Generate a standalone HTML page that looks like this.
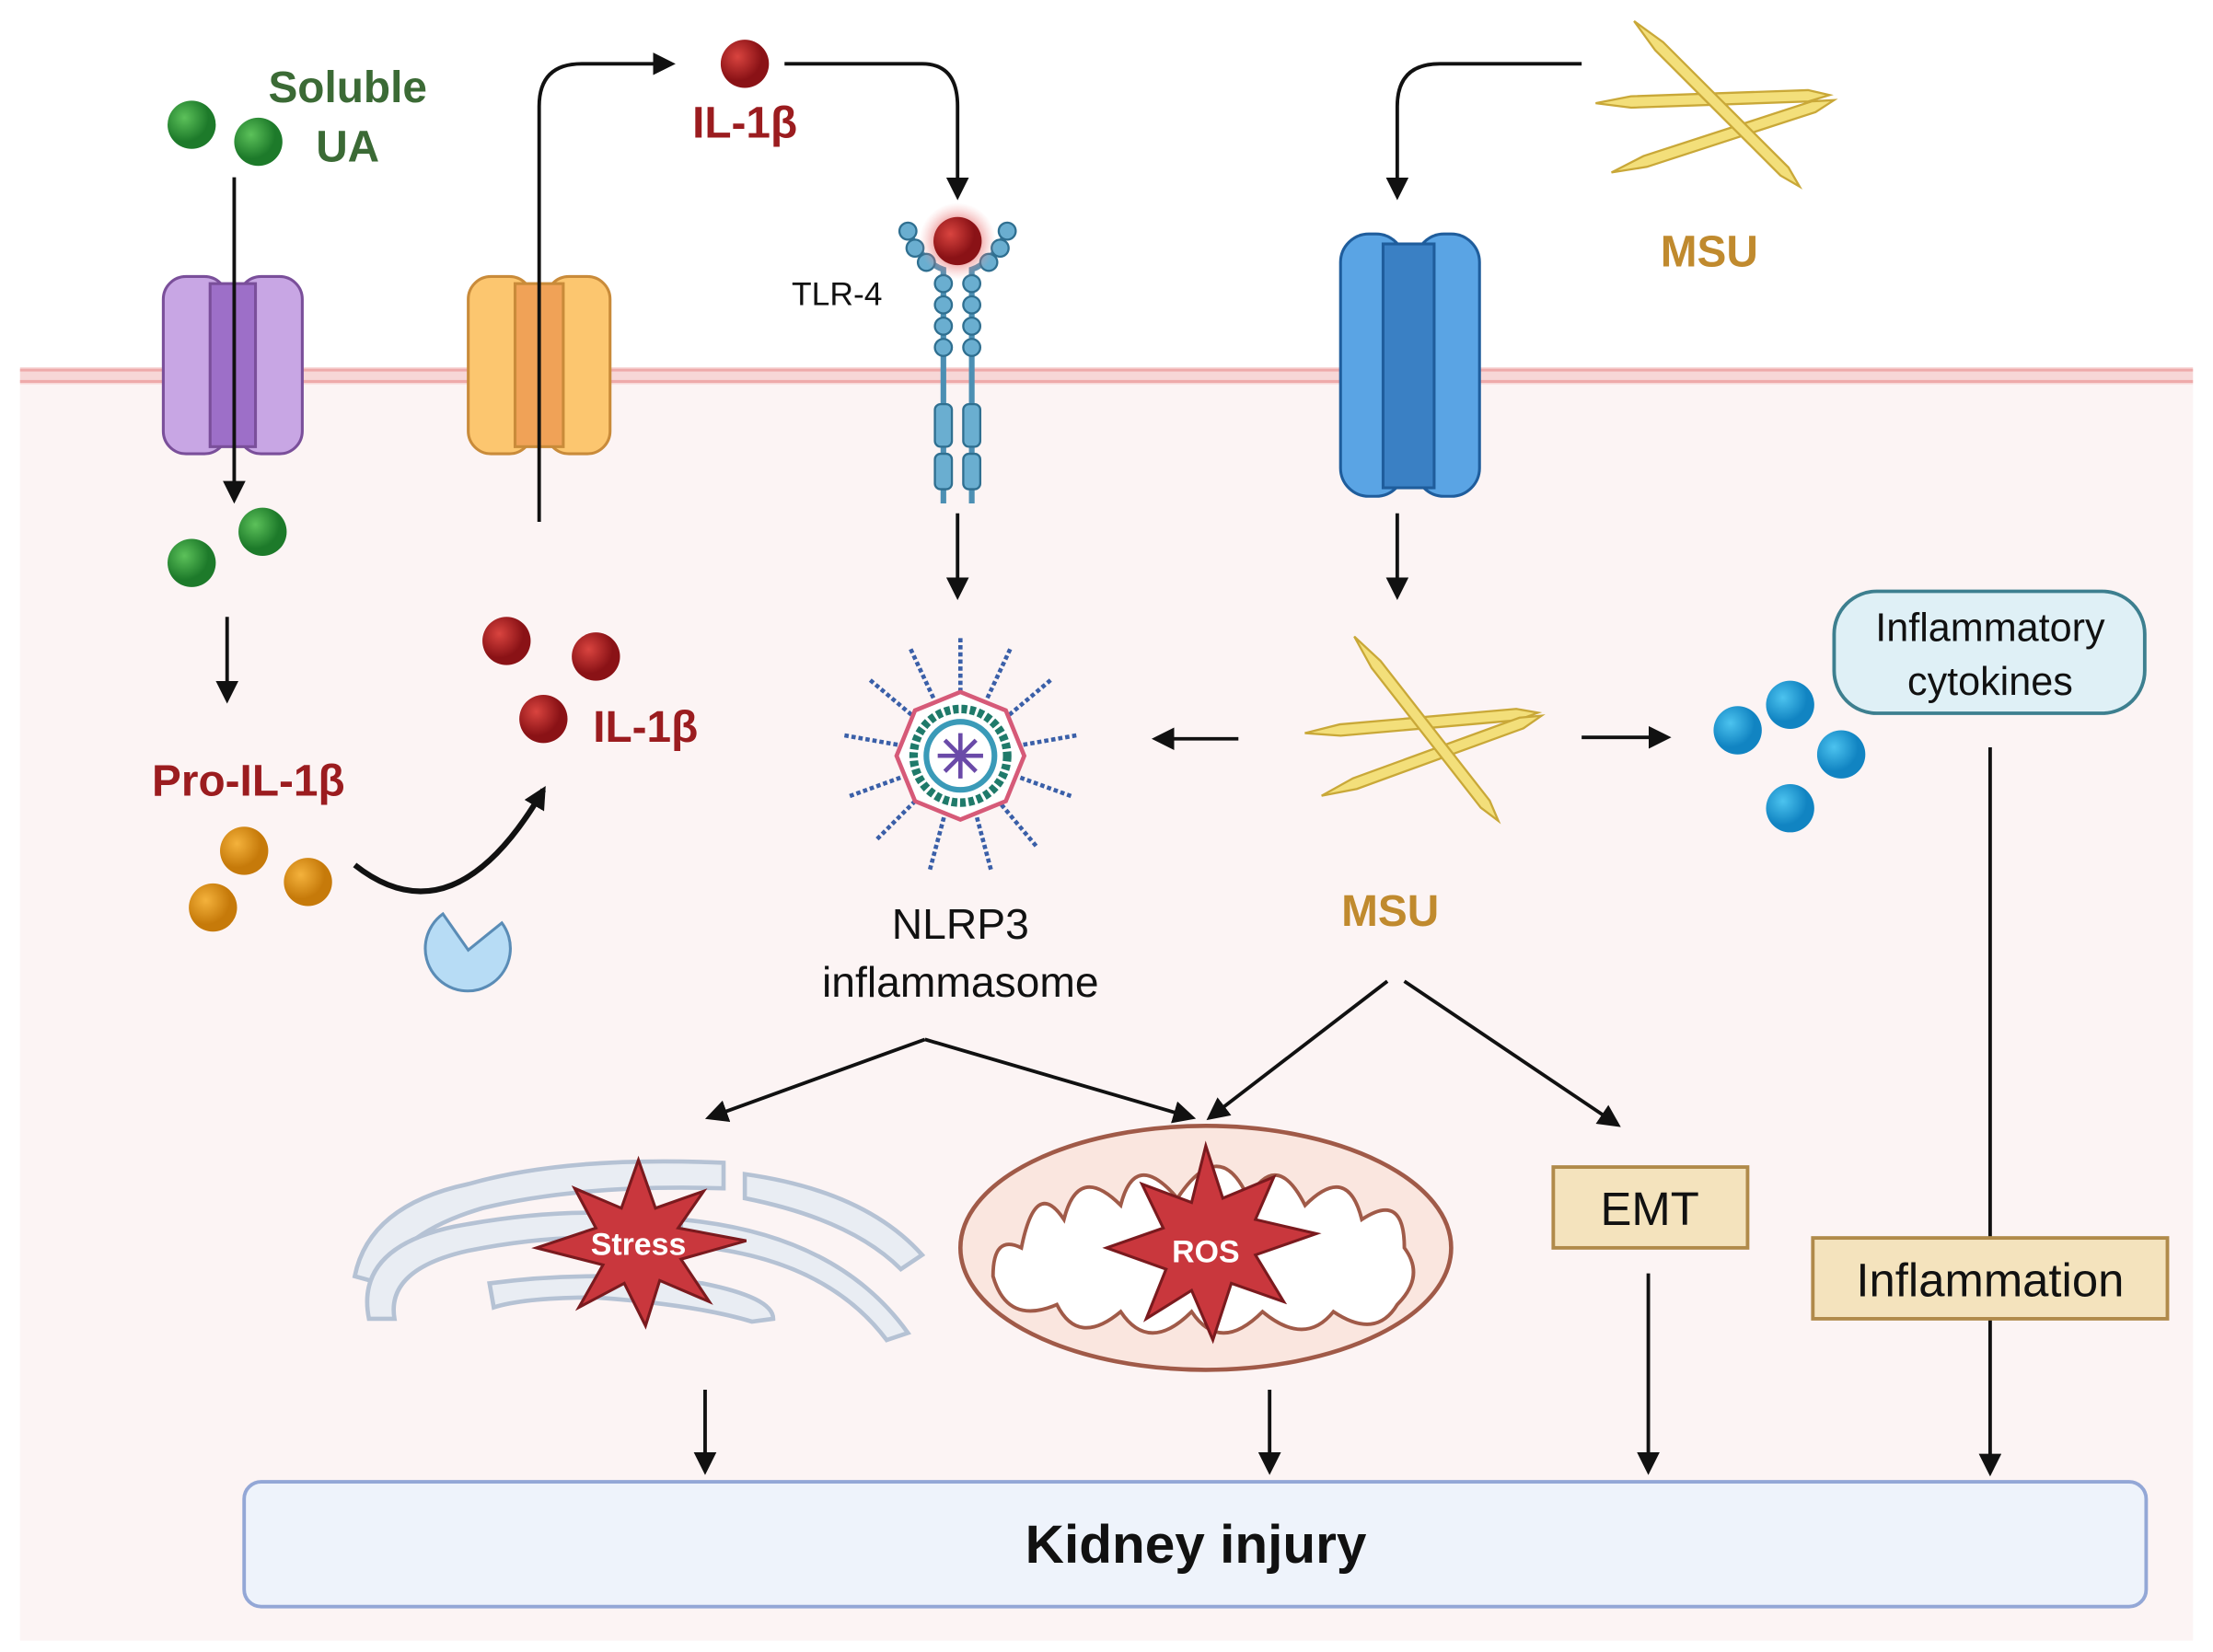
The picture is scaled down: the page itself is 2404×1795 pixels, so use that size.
<!DOCTYPE html>
<html><head><meta charset="utf-8"><style>html,body{margin:0;padding:0;background:#fff}svg{display:block}text{font-family:"Liberation Sans",sans-serif}</style></head><body>
<svg width="2404" height="1795" viewBox="0 0 1560 1165" xmlns="http://www.w3.org/2000/svg">
<defs>
<marker id="ah" markerWidth="8" markerHeight="8" refX="6" refY="4" orient="auto" markerUnits="userSpaceOnUse" viewBox="0 0 8 8"><path d="M0,0 L8,4 L0,8 Z" fill="#111"/></marker>
<marker id="a" viewBox="0 0 10 10" refX="8" refY="5" markerWidth="16" markerHeight="16" orient="auto" markerUnits="userSpaceOnUse"><path d="M0,0 L10,5 L0,10 Z" fill="#111"/></marker>
<radialGradient id="gg" cx="35%" cy="35%"><stop offset="0" stop-color="#5cc15a"/><stop offset="1" stop-color="#1d7a2a"/></radialGradient>
<radialGradient id="rg" cx="35%" cy="35%"><stop offset="0" stop-color="#d9443f"/><stop offset="1" stop-color="#8a1216"/></radialGradient>
<radialGradient id="og" cx="35%" cy="35%"><stop offset="0" stop-color="#f4b23c"/><stop offset="1" stop-color="#c67a0a"/></radialGradient>
<radialGradient id="bg" cx="35%" cy="35%"><stop offset="0" stop-color="#4cc3ef"/><stop offset="1" stop-color="#1184c2"/></radialGradient>
<radialGradient id="glow"><stop offset="0.4" stop-color="#e05050" stop-opacity="0.8"/><stop offset="1" stop-color="#f4a0a0" stop-opacity="0"/></radialGradient>
<g id="crys"><path d="M-80,-5 L-55,-9 L70,-9 L85,-5 L70,-1 L-55,-1 Z" fill="#f3df7a" stroke="#c9a838" stroke-width="1.5"/></g>
</defs>
<rect x="14" y="262" width="1532" height="895" fill="#fcf4f4"/>
<rect x="14" y="259" width="1532" height="12" fill="#f7d7d7"/>
<line x1="14" y1="261" x2="1546" y2="261" stroke="#eeaaaa" stroke-width="2"/>
<line x1="14" y1="269" x2="1546" y2="269" stroke="#eeaaaa" stroke-width="2"/>

<!-- channels -->
<g stroke="#7a4f9a" stroke-width="2"><rect x="115" y="195" width="45" height="125" rx="16" fill="#c8a6e4"/><rect x="168" y="195" width="45" height="125" rx="16" fill="#c8a6e4"/><rect x="148" y="200" width="32" height="115" fill="#9d6fc8"/></g>
<g stroke="#c98b3a" stroke-width="2"><rect x="330" y="195" width="45" height="125" rx="16" fill="#fcc66f"/><rect x="385" y="195" width="45" height="125" rx="16" fill="#fcc66f"/><rect x="363" y="200" width="34" height="115" fill="#f0a257"/></g>
<g stroke="#1f5d9c" stroke-width="2"><rect x="945" y="165" width="45" height="185" rx="20" fill="#5aa4e4"/><rect x="998" y="165" width="45" height="185" rx="20" fill="#5aa4e4"/><rect x="975" y="172" width="36" height="172" fill="#3a80c4"/></g>

<!-- green -->
<circle cx="135" cy="88" r="17" fill="url(#gg)"/><circle cx="182" cy="100" r="17" fill="url(#gg)"/>
<circle cx="185" cy="375" r="17" fill="url(#gg)"/><circle cx="135" cy="397" r="17" fill="url(#gg)"/>
<text x="245" y="72" font-size="31" font-weight="bold" fill="#3b6a35" text-anchor="middle">Soluble</text>
<text x="245" y="114" font-size="31" font-weight="bold" fill="#3b6a35" text-anchor="middle">UA</text>
<g fill="none" stroke="#111" stroke-width="2.5">
<line x1="165" y1="125" x2="165" y2="352" marker-end="url(#a)"/>
<line x1="160" y1="435" x2="160" y2="493" marker-end="url(#a)"/>
<path d="M380,368 L380,75 Q380,45 410,45 L473,45" marker-end="url(#a)"/>
<path d="M553,45 L650,45 Q675,45 675,75 L675,138" marker-end="url(#a)"/>
<path d="M1115,45 L1015,45 Q985,45 985,75 L985,138" marker-end="url(#a)"/>
<line x1="675" y1="362" x2="675" y2="420" marker-end="url(#a)"/>
<line x1="985" y1="362" x2="985" y2="420" marker-end="url(#a)"/>
<line x1="873" y1="521" x2="815" y2="521" marker-end="url(#a)"/>
<line x1="1115" y1="520" x2="1175" y2="520" marker-end="url(#a)"/>
<line x1="1403" y1="527" x2="1403" y2="873"/>
<line x1="1403" y1="930" x2="1403" y2="1038" marker-end="url(#a)"/>
<path d="M652,733 L500,788" marker-end="url(#a)"/>
<path d="M652,733 L840,788" marker-end="url(#a)"/>
<path d="M978,692 L853,788" marker-end="url(#a)"/>
<path d="M990,692 L1140,793" marker-end="url(#a)"/>
<line x1="497" y1="980" x2="497" y2="1037" marker-end="url(#a)"/>
<line x1="895" y1="980" x2="895" y2="1037" marker-end="url(#a)"/>
<line x1="1162" y1="898" x2="1162" y2="1037" marker-end="url(#a)"/>
<path d="M250,610 Q320,665 383,557" stroke-width="4" marker-end="url(#a)"/>
</g>
<text x="175" y="561" font-size="31" font-weight="bold" fill="#9b1c1f" text-anchor="middle">Pro-IL-1β</text>
<circle cx="172" cy="600" r="17" fill="url(#og)"/><circle cx="217" cy="622" r="17" fill="url(#og)"/><circle cx="150" cy="640" r="17" fill="url(#og)"/>
<path d="M330,670 L350,647 A30,30 0 1 1 308,648 Z" fill="#b7dcf5" stroke="#5a8cb6" stroke-width="2" transform="rotate(10 330 670)"/>
<circle cx="525" cy="45" r="17" fill="url(#rg)"/>
<text x="525" y="97" font-size="31" font-weight="bold" fill="#9b1c1f" text-anchor="middle">IL-1β</text>
<circle cx="357" cy="452" r="17" fill="url(#rg)"/><circle cx="420" cy="463" r="17" fill="url(#rg)"/><circle cx="383" cy="507" r="17" fill="url(#rg)"/>
<text x="455" y="523" font-size="31" font-weight="bold" fill="#9b1c1f" text-anchor="middle">IL-1β</text>

<!-- TLR4 -->
<g fill="#6aaed0" stroke="#2f6f90" stroke-width="1.5">
<path d="M640,162 Q650,185 665,190 L665,355" fill="none" stroke="#4c8fb3" stroke-width="4"/>
<path d="M710,162 Q700,185 685,190 L685,355" fill="none" stroke="#4c8fb3" stroke-width="4"/>
<circle cx="640" cy="163" r="6"/><circle cx="645" cy="175" r="6"/><circle cx="653" cy="185" r="6"/><circle cx="710" cy="163" r="6"/><circle cx="705" cy="175" r="6"/><circle cx="697" cy="185" r="6"/>
<circle cx="665" cy="200" r="6"/><circle cx="665" cy="215" r="6"/><circle cx="665" cy="230" r="6"/><circle cx="665" cy="245" r="6"/>
<circle cx="685" cy="200" r="6"/><circle cx="685" cy="215" r="6"/><circle cx="685" cy="230" r="6"/><circle cx="685" cy="245" r="6"/>
<rect x="659" y="285" width="12" height="30" rx="4"/><rect x="679" y="285" width="12" height="30" rx="4"/>
<rect x="659" y="320" width="12" height="25" rx="4"/><rect x="679" y="320" width="12" height="25" rx="4"/>
</g>
<circle cx="675" cy="170" r="27" fill="url(#glow)"/><circle cx="675" cy="170" r="17" fill="url(#rg)"/>
<text x="590" y="215" font-size="23" fill="#111" text-anchor="middle">TLR-4</text>

<!-- NLRP3 -->
<g transform="translate(677,533)">
<g stroke="#3a5fa8" stroke-width="3" stroke-dasharray="3,2">
<line x1="0" y1="-45" x2="0" y2="-85" transform="rotate(0)"/><line x1="0" y1="-45" x2="0" y2="-85" transform="rotate(25)"/><line x1="0" y1="-45" x2="0" y2="-85" transform="rotate(50)"/><line x1="0" y1="-45" x2="0" y2="-85" transform="rotate(80)"/><line x1="0" y1="-45" x2="0" y2="-85" transform="rotate(110)"/><line x1="0" y1="-45" x2="0" y2="-85" transform="rotate(140)"/><line x1="0" y1="-45" x2="0" y2="-85" transform="rotate(165)"/><line x1="0" y1="-45" x2="0" y2="-85" transform="rotate(195)"/><line x1="0" y1="-45" x2="0" y2="-85" transform="rotate(225)"/><line x1="0" y1="-45" x2="0" y2="-85" transform="rotate(250)"/><line x1="0" y1="-45" x2="0" y2="-85" transform="rotate(280)"/><line x1="0" y1="-45" x2="0" y2="-85" transform="rotate(310)"/><line x1="0" y1="-45" x2="0" y2="-85" transform="rotate(335)"/>
</g>
<polygon points="0,-45 32,-32 45,0 32,32 0,45 -32,32 -45,0 -32,-32" fill="#fff" stroke="#d65a78" stroke-width="3"/>
<circle r="33" fill="none" stroke="#1f7a6a" stroke-width="6" stroke-dasharray="4,2"/>
<circle r="24" fill="none" stroke="#3a9ab8" stroke-width="4"/>
<g stroke="#6a4aa8" stroke-width="3"><line x1="-16" y1="0" x2="16" y2="0"/><line x1="0" y1="-16" x2="0" y2="16"/><line x1="-11" y1="-11" x2="11" y2="11"/><line x1="-11" y1="11" x2="11" y2="-11"/></g>
</g>
<text x="677" y="662" font-size="30" fill="#111" text-anchor="middle">NLRP3</text>
<text x="677" y="703" font-size="30" fill="#111" text-anchor="middle">inflammasome</text>

<!-- MSU crystals -->
<g transform="translate(1000,515)"><use href="#crys" transform="rotate(-5)"/><use href="#crys" transform="rotate(-20) translate(0,25)"/><use href="#crys" transform="rotate(52)"/></g>
<g transform="translate(1205,75)"><use href="#crys" transform="rotate(-2)"/><use href="#crys" transform="rotate(-18) translate(0,28)"/><use href="#crys" transform="rotate(45)"/></g>
<text x="1205" y="188" font-size="31" font-weight="bold" fill="#c08a2e" text-anchor="middle">MSU</text>
<text x="980" y="653" font-size="31" font-weight="bold" fill="#c08a2e" text-anchor="middle">MSU</text>

<circle cx="1262" cy="497" r="17" fill="url(#bg)"/><circle cx="1225" cy="515" r="17" fill="url(#bg)"/><circle cx="1298" cy="532" r="17" fill="url(#bg)"/><circle cx="1262" cy="570" r="17" fill="url(#bg)"/>
<rect x="1293" y="417" width="219" height="86" rx="30" fill="#dff0f6" stroke="#3d7f8f" stroke-width="2.5"/>
<text x="1403" y="452" font-size="28" fill="#111" text-anchor="middle">Inflammatory</text>
<text x="1403" y="490" font-size="28" fill="#111" text-anchor="middle">cytokines</text>
<rect x="1278" y="873" width="250" height="57" fill="#f4e3bd" stroke="#b08a4a" stroke-width="2.5"/>
<text x="1403" y="914" font-size="33" fill="#111" text-anchor="middle">Inflammation</text>
<rect x="1095" y="823" width="137" height="57" fill="#f4e3bd" stroke="#b08a4a" stroke-width="2.5"/>
<text x="1163" y="864" font-size="33" fill="#111" text-anchor="middle">EMT</text>

<!-- ER -->
<g fill="#e9edf3" stroke="#b5c2d4" stroke-width="3">
<path d="M250,900 Q260,850 330,835 Q400,815 510,820 L510,838 Q410,835 340,852 Q280,870 268,905 Z"/>
<path d="M260,930 Q250,880 320,865 Q400,850 460,858 L460,875 Q400,868 330,882 Q272,895 278,930 Z"/>
<path d="M525,828 Q610,840 650,885 L635,895 Q600,860 525,845 Z"/>
<path d="M480,860 Q590,870 640,940 L625,945 Q580,885 480,878 Z"/>
<path d="M345,905 Q420,895 495,905 Q545,915 545,930 L530,932 Q490,920 420,915 Q370,915 348,922 Z"/>
</g>
<polygon points="450,818 462,852 496,840 478,866 526,875 480,888 500,918 465,903 455,935 440,905 408,922 425,892 378,880 420,866 405,838 438,852" fill="#c9373d" stroke="#7a1a1e" stroke-width="2"/>
<text x="450" y="885" font-size="22" font-weight="bold" fill="#fff" text-anchor="middle">Stress</text>

<!-- mito -->
<ellipse cx="850" cy="880" rx="173" ry="86" fill="#fae6df" stroke="#a05a48" stroke-width="3"/>
<path d="M700,900 Q700,870 720,880 Q730,830 750,860 Q760,820 790,850 Q800,810 830,845 Q860,800 880,845 Q900,810 920,850 Q950,820 960,860 Q990,840 990,880 Q1005,900 985,920 Q970,945 940,925 Q920,950 890,925 Q860,955 840,925 Q810,955 790,925 Q760,950 745,920 Q710,935 700,900 Z" fill="#fff" stroke="#a05a48" stroke-width="2.5"/>
<polygon points="850,808 862,845 898,830 885,860 928,870 885,885 905,918 868,905 855,945 840,910 808,930 822,895 780,880 820,866 805,835 840,848" fill="#c9373d" stroke="#7a1a1e" stroke-width="2"/>
<text x="850" y="890" font-size="22" font-weight="bold" fill="#fff" text-anchor="middle">ROS</text>

<rect x="172" y="1045" width="1341" height="88" rx="12" fill="#eef3fb" stroke="#93a7d6" stroke-width="2.5"/>
<text x="843" y="1102" font-size="38" font-weight="bold" fill="#111" text-anchor="middle">Kidney injury</text>
</svg>
</body></html>
